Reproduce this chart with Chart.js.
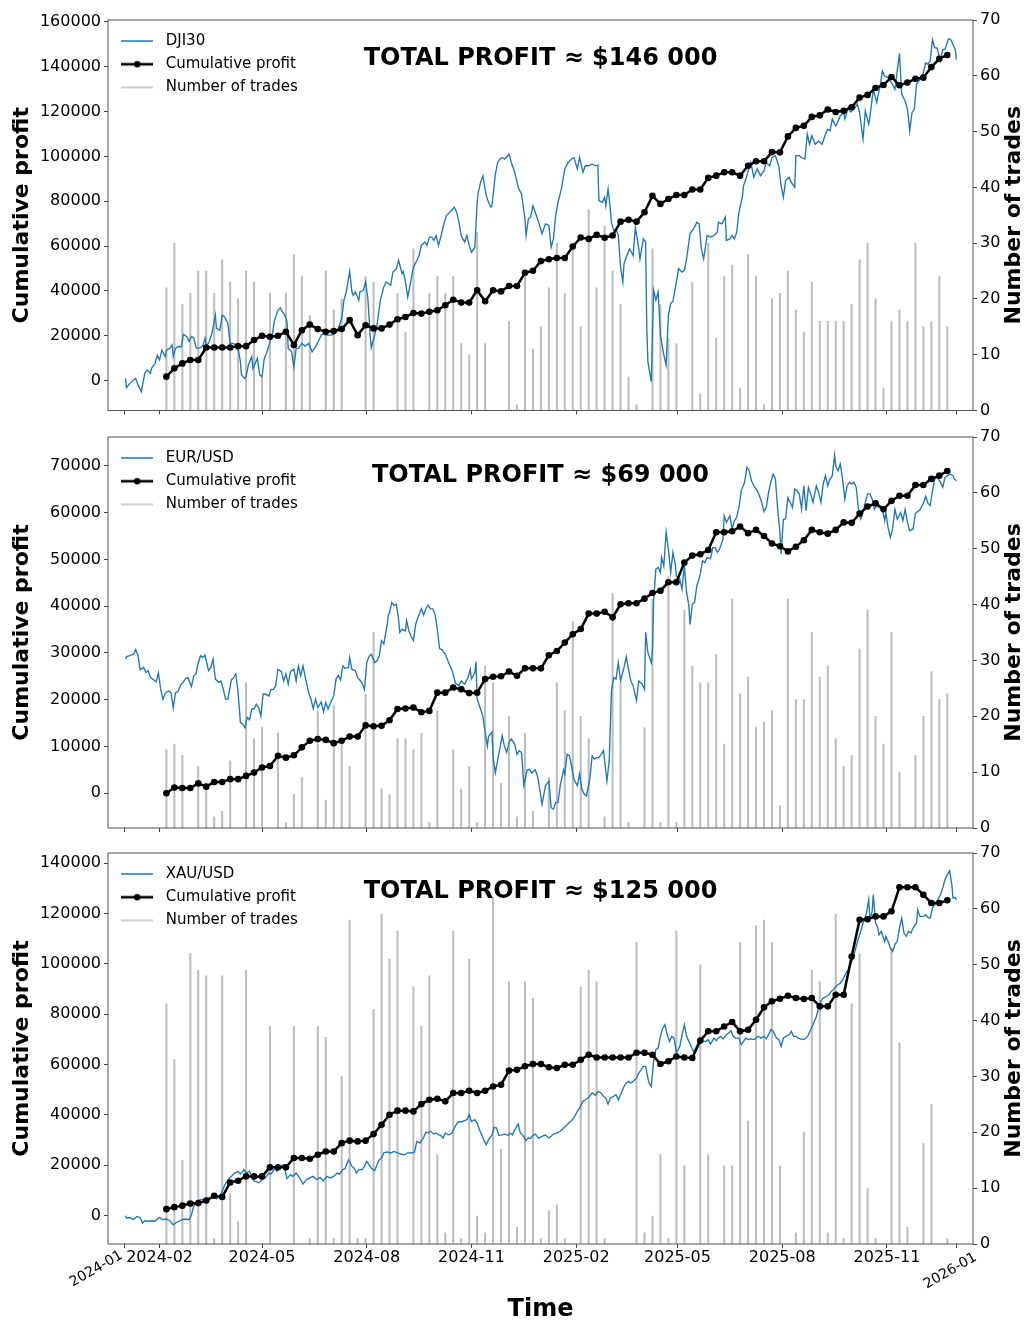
<!DOCTYPE html>
<html><head><meta charset="utf-8">
<script src="https://cdn.jsdelivr.net/npm/chart.js@4.4.1/dist/chart.umd.min.js"></script>
<style>
html,body{margin:0;padding:0;background:#fff;}
#wrap{position:relative;width:1028px;height:1324px;overflow:hidden;}
canvas{position:absolute;left:0;display:block;}
</style></head><body>
<div id="wrap">
<canvas id="c1" width="1028" height="426" style="top:0px"></canvas>
<canvas id="c2" width="1028" height="426" style="top:416.5px"></canvas>
<canvas id="c3" width="1028" height="491" style="top:833px"></canvas>
</div>
<script>
// ---------- data ----------
const tickLabels = ['2024-01','2024-02','2024-05','2024-08','2024-11','2025-02','2025-05','2025-08','2025-11','2026-01'];
const rotatedLabels = ['2024-01','2026-01'];
const weekStart = '2024-02-07';   // weekly points (cumulative profit / trades)
const weekCount = 99;

// price series: [day since 2024-01-01, value]
const djiPrice = [[1,1000],[2,-3100],[5,-1200],[8,300],[10,1000],[12,-1900],[15,-4900],[18,3300],[20,4700],[23,3300],[24,5500],[27,7700],[29,11400],[31,9200],[33,13600],[36,10700],[37,13600],[40,14400],[42,15900],[43,10700],[45,14400],[47,15100],[50,15100],[52,20600],[55,19600],[57,17600],[59,19600],[61,19100],[63,14800],[64,14400],[67,14700],[69,15600],[71,19100],[72,15900],[74,16600],[77,21000],[80,29200],[81,23300],[84,22500],[86,29200],[88,28500],[91,25500],[93,16600],[95,16600],[97,16300],[100,14400],[102,8500],[103,2500],[106,1000],[107,1800],[109,7000],[112,10700],[113,5500],[115,7700],[117,9900],[119,2500],[121,1800],[123,9900],[125,12200],[128,17300],[130,20300],[132,27000],[135,31400],[137,32500],[139,30700],[141,29200],[143,26200],[144,14400],[147,12900],[149,6200],[151,14400],[153,14400],[156,16600],[159,15400],[162,16600],[165,12900],[168,15100],[171,18100],[173,20300],[175,21000],[177,20300],[179,20300],[182,20300],[185,21000],[188,23300],[191,27700],[193,35900],[195,39600],[198,48700],[200,39600],[201,38100],[203,39600],[206,35900],[207,39600],[210,40300],[212,44000],[214,36600],[216,20300],[217,14700],[220,20300],[222,24700],[225,35900],[228,41800],[230,44000],[232,43300],[234,42500],[236,48400],[239,49900],[241,53600],[244,47700],[245,48700],[247,44000],[249,37300],[251,42500],[254,50600],[257,53600],[259,55800],[261,60300],[264,61800],[266,60300],[268,64000],[270,64000],[272,62500],[274,64700],[276,60300],[278,64000],[280,68400],[283,73600],[286,75100],[290,77300],[292,75100],[294,70600],[296,64700],[299,61800],[301,64700],[303,60300],[305,57300],[308,59500],[310,79500],[311,84000],[313,88400],[315,91400],[318,82500],[320,79500],[322,77300],[323,78000],[326,92100],[328,97300],[330,98800],[332,99500],[334,98800],[337,100300],[338,101000],[340,97300],[343,92900],[346,86200],[349,83200],[352,72100],[353,64700],[355,72100],[357,72900],[359,78000],[361,75100],[364,70600],[367,65500],[370,69900],[373,69200],[375,59500],[377,63200],[379,73600],[381,79500],[384,85500],[387,94400],[390,97300],[393,98800],[395,99500],[398,94400],[400,99500],[403,92900],[405,95800],[408,95800],[411,96600],[414,95800],[416,96100],[417,80300],[420,79500],[422,81800],[423,78000],[425,85500],[427,76600],[428,70600],[430,66900],[432,67700],[434,64700],[436,50600],[438,44000],[439,52100],[441,55100],[444,58800],[447,55800],[449,68400],[452,58800],[453,54300],[456,63200],[458,61800],[459,24000],[460,8500],[461,5500],[463,-400],[465,40300],[467,35900],[469,39600],[471,20300],[474,11400],[476,7000],[478,29200],[480,34400],[482,35400],[484,41000],[485,44000],[487,49900],[490,48400],[492,49200],[494,54300],[497,65500],[500,67700],[503,70600],[505,69900],[507,58800],[509,54300],[512,64700],[515,64000],[518,64700],[521,66200],[522,70600],[525,69900],[528,72900],[529,62500],[532,63200],[534,64700],[536,63200],[538,66200],[540,75100],[543,81800],[544,86900],[547,91400],[550,97300],[551,95800],[553,90700],[556,94400],[559,91400],[562,93600],[564,97300],[567,95800],[569,99500],[572,100300],[575,95800],[577,86900],[579,81800],[581,89200],[584,90700],[586,88400],[589,86200],[590,100300],[593,100300],[595,99500],[598,98800],[600,109900],[602,105400],[604,109200],[607,105400],[610,106900],[613,105400],[616,109900],[618,112100],[620,111400],[622,116600],[625,113600],[626,114400],[629,118000],[632,119500],[633,116600],[636,121700],[638,119800],[641,121000],[644,123200],[646,119500],[649,107700],[651,120300],[654,114400],[655,117300],[658,129900],[661,124000],[664,131400],[666,138000],[668,135800],[671,135100],[674,132800],[677,129900],[681,145900],[683,127700],[686,124700],[688,121000],[689,116600],[690,111400],[692,119500],[694,121000],[696,132100],[698,133600],[699,134300],[702,137300],[704,141700],[706,141000],[708,142500],[710,152100],[712,148400],[714,148400],[717,142500],[719,147700],[721,147700],[724,152400],[726,152100],[728,149900],[730,147700],[731,143200]];

const eurPrice = [[1,28700],[2,29200],[5,29400],[8,29700],[10,30700],[12,29500],[14,26400],[17,26900],[19,25800],[21,26200],[23,24700],[25,24400],[28,23800],[30,25700],[32,22200],[34,20100],[36,21400],[39,21900],[41,21500],[43,18300],[45,21500],[47,21700],[50,23300],[52,23800],[54,24500],[56,24700],[59,22800],[61,25100],[63,25500],[65,27900],[67,29400],[69,29000],[71,29500],[74,26200],[76,26900],[78,28700],[80,24400],[83,23700],[85,24000],[87,22200],[89,20100],[91,20100],[94,24200],[96,24700],[98,25500],[100,21500],[102,15100],[104,14800],[106,14000],[108,16200],[110,15700],[112,18000],[114,18000],[116,19000],[118,18300],[120,16500],[122,21200],[124,21200],[127,20800],[129,22200],[131,22200],[133,23000],[135,26500],[138,26000],[140,24000],[142,25500],[144,23300],[146,26000],[149,26500],[151,24000],[153,27200],[155,25100],[157,27200],[160,23700],[162,21500],[164,20100],[166,18100],[168,20100],[170,18300],[173,19500],[175,17400],[177,19400],[179,18000],[182,19800],[184,20800],[186,24400],[188,25200],[190,24200],[192,27200],[194,26700],[197,26900],[198,29000],[200,26400],[203,26200],[205,24700],[207,24200],[209,23500],[211,22200],[213,27900],[215,29200],[217,29700],[220,27900],[222,28300],[224,29400],[226,32600],[228,31900],[231,36100],[232,38100],[233,38600],[235,40800],[237,40100],[239,40400],[241,37200],[242,34400],[244,35100],[247,34700],[248,36900],[250,34700],[252,33500],[254,32600],[256,36100],[258,37600],[261,39400],[263,38100],[265,39500],[267,40200],[269,39400],[271,39400],[273,38300],[275,35100],[277,30900],[279,30700],[282,29700],[285,27900],[288,26200],[291,23500],[294,23000],[296,24000],[299,23300],[302,24700],[304,26500],[305,24400],[308,25800],[309,28100],[310,20100],[312,18700],[315,16500],[317,13000],[319,10100],[320,12100],[323,13100],[324,7600],[326,4400],[329,8300],[332,12300],[334,10000],[336,8700],[338,10800],[340,11600],[343,10500],[345,8300],[347,9100],[349,8700],[351,1700],[354,5000],[356,5100],[358,4300],[361,5000],[363,3700],[365,900],[367,-2400],[370,1600],[373,2600],[375,-3100],[377,-3400],[379,-2000],[381,-2000],[383,1600],[386,5000],[387,4100],[389,8300],[391,8000],[393,5800],[395,3000],[398,1600],[400,4100],[402,900],[404,-200],[406,-600],[409,3000],[411,8000],[413,7300],[415,7600],[417,7600],[419,8300],[421,9100],[424,2600],[426,6900],[428,21900],[430,24700],[432,24400],[434,27900],[436,24000],[439,26900],[441,29200],[443,26500],[445,24000],[447,23000],[450,19800],[452,24000],[455,23300],[457,22200],[458,34400],[460,30100],[463,27900],[464,30400],[465,41100],[467,47900],[469,48300],[471,47200],[472,50400],[474,48600],[476,55800],[478,52200],[480,47200],[482,51500],[484,49000],[485,46500],[488,45800],[490,43600],[492,48600],[494,42900],[496,40100],[497,36100],[499,40400],[501,40800],[503,44300],[506,46800],[508,49700],[510,49300],[512,50400],[515,50100],[517,52500],[519,52500],[521,51500],[523,52200],[526,54300],[527,59300],[529,57900],[532,59300],[534,56500],[536,58200],[538,59000],[540,61100],[542,64700],[545,66500],[547,69700],[549,69000],[551,66800],[553,65700],[556,64700],[558,63600],[560,62200],[562,60200],[564,61100],[566,64300],[568,66500],[570,68200],[572,67200],[574,60700],[576,55800],[577,51100],[579,58500],[581,58700],[583,63200],[585,62200],[587,61100],[589,65000],[591,64700],[593,64000],[595,60700],[597,65700],[599,60400],[601,65400],[603,64000],[605,62200],[608,65700],[610,64300],[612,62200],[614,66100],[616,67900],[618,65700],[620,67200],[622,67900],[624,72300],[625,70000],[627,68900],[629,70400],[631,67200],[633,62900],[635,65700],[637,66500],[639,66100],[641,66500],[643,65400],[645,60700],[647,58600],[649,60000],[651,62200],[653,64000],[655,64000],[657,62900],[659,60700],[661,61500],[663,61100],[666,60700],[668,58300],[669,60000],[671,56800],[673,54700],[675,56500],[677,60700],[679,58600],[682,60000],[684,58300],[686,60700],[688,57900],[690,56100],[693,56500],[695,59800],[697,60200],[699,60600],[702,62000],[704,63500],[706,62000],[708,61500],[710,64700],[712,67200],[714,67500],[717,66500],[719,65400],[721,67500],[723,67900],[726,68200],[728,67900],[729,67200],[731,66800]];

const xauPrice = [[1,0],[2,-900],[5,-700],[8,-1600],[11,-300],[14,-700],[16,-2900],[18,-2000],[21,-2200],[24,-2000],[27,-2200],[30,-900],[31,-700],[34,-1600],[37,-1300],[40,-2000],[43,-3600],[45,-2900],[48,-2200],[51,-1600],[54,-1300],[57,-1600],[59,400],[61,3700],[63,5000],[65,6000],[67,6400],[70,6400],[72,7000],[75,7000],[78,7300],[81,6700],[84,7700],[86,9700],[88,12000],[91,14300],[94,15600],[97,16900],[100,17600],[102,16500],[104,17600],[105,18300],[107,16900],[110,17600],[112,15600],[114,13600],[116,13600],[118,13000],[121,14300],[124,15000],[127,16900],[129,16500],[132,18700],[134,17600],[137,19600],[140,20200],[143,14700],[146,16300],[148,15600],[151,16900],[154,15000],[157,12600],[160,14300],[163,15000],[166,15600],[169,14300],[172,15200],[175,13900],[178,15600],[181,15000],[184,15600],[187,16900],[189,16500],[192,18300],[194,18700],[197,22200],[200,19600],[202,18900],[204,16900],[206,18300],[209,18300],[211,19600],[213,21600],[215,20200],[217,18900],[220,17900],[222,20200],[224,22200],[226,22900],[228,25000],[231,25300],[234,24900],[237,25500],[240,24900],[243,24500],[246,24200],[249,24900],[252,24900],[255,25300],[257,29500],[260,28800],[263,31100],[265,33200],[267,32800],[269,33500],[272,32400],[274,32800],[276,32100],[278,31900],[280,30800],[282,32800],[285,32100],[288,32800],[290,34800],[292,36400],[294,37400],[296,37200],[299,37700],[301,38100],[303,40100],[305,37400],[308,38100],[310,36800],[312,34100],[314,32100],[316,29800],[318,28200],[320,30200],[323,32100],[325,35100],[327,34800],[329,31900],[332,32100],[334,32400],[337,31900],[339,32800],[341,32100],[343,34100],[346,36400],[348,32800],[350,32100],[353,29800],[355,30800],[357,30600],[359,31900],[361,32400],[364,30800],[367,31500],[370,32100],[373,30800],[375,31500],[377,32400],[380,32800],[383,33500],[386,34800],[389,36100],[392,37400],[395,38800],[398,41400],[400,42700],[403,45400],[405,46000],[408,47000],[411,48700],[414,47800],[416,49300],[419,48700],[421,47400],[423,46700],[425,44300],[427,46700],[430,47400],[432,48000],[434,46000],[436,48000],[439,51300],[441,52700],[443,53300],[445,52700],[447,53300],[450,54600],[452,56600],[454,57900],[456,59300],[458,59300],[460,54600],[461,52700],[463,51300],[465,61300],[467,65900],[469,66500],[471,71200],[473,74500],[475,75800],[477,71800],[479,69200],[481,71200],[483,70500],[485,64600],[488,67200],[490,71800],[492,75800],[494,71200],[496,69200],[498,67200],[500,65200],[502,66500],[504,68500],[506,70500],[509,69200],[511,69200],[513,69900],[515,68100],[518,70500],[520,69500],[522,70500],[524,71200],[526,70200],[529,71800],[531,72500],[533,73400],[535,71200],[537,70500],[540,70500],[542,67900],[544,69200],[546,70500],[548,69900],[550,70200],[553,69900],[555,70500],[557,71200],[559,70500],[562,71200],[564,70200],[566,71800],[568,73800],[570,73200],[573,70500],[575,69900],[577,67200],[579,70500],[581,71200],[584,71800],[586,73200],[588,71200],[590,71200],[592,70500],[594,70200],[597,69900],[599,70500],[601,71800],[603,73800],[605,75800],[608,79100],[610,82400],[612,85100],[614,86400],[617,87100],[619,87700],[621,89000],[623,89700],[625,91000],[627,91700],[629,92300],[632,94300],[634,96300],[636,97600],[638,99600],[641,103600],[643,106900],[645,110200],[647,112900],[649,116200],[652,120100],[654,125400],[655,117500],[657,120800],[658,127400],[660,116200],[662,114200],[663,111500],[665,112900],[668,108900],[669,110900],[671,108900],[673,106200],[675,104900],[677,107600],[679,108900],[681,114200],[683,118100],[685,112200],[687,110900],[689,112900],[691,112200],[693,114200],[696,116200],[697,121400],[699,118800],[702,118800],[704,119500],[706,118400],[708,118100],[710,122100],[712,123400],[714,124800],[717,127400],[719,130100],[721,133400],[723,135300],[725,136900],[727,131400],[728,126100],[730,126400],[731,125400]];

const djiProfit = [1800,5500,7700,9200,9200,14800,14800,14800,14800,15400,15400,18100,20000,19600,20000,21800,15900,22500,25000,23000,21800,22100,23000,27000,20300,24700,23300,23300,25000,27400,28400,30200,29900,30700,31400,33600,36100,34800,34800,40300,35400,40300,39800,42200,42200,48100,49000,53300,54100,54700,54700,59800,63800,63200,65000,63700,64700,70900,71700,70900,75100,82400,78800,81000,82800,82800,85200,85200,90400,91400,92900,92900,91400,95800,97800,97800,101900,101800,108900,112700,113600,117600,118300,120900,119800,120300,121900,126200,127400,130500,131800,135400,131700,132900,134600,135100,139800,143500,145200];
const eurProfit = [0,1200,1100,1100,2100,1400,2400,2400,3000,3000,3700,4400,5500,5800,8000,7600,8100,9800,11200,11600,11400,10700,11200,12100,12100,14500,14300,14400,15600,18000,18100,18300,17300,17600,21500,21500,22600,22200,21400,21500,24400,24900,25000,26000,25100,26700,26700,26700,29500,30400,32200,34000,35100,38400,38400,38800,37600,40400,40600,40600,41600,42800,43300,45100,45100,49300,50800,51100,52000,55800,55800,56000,57000,55600,56300,55000,53400,52800,51700,52700,54100,56300,55800,55500,56300,57900,57800,59800,61300,62000,60700,62500,63600,63600,65900,65900,67200,67900,68900];
const xauProfit = [2600,3400,4000,4800,5000,6000,7900,7400,13200,13900,15600,15600,15600,19200,19200,19200,22900,22900,22600,24200,25500,25500,28800,29800,29500,29800,32400,36100,40100,41700,41700,41400,44300,46000,46400,45400,48700,48700,49600,48700,49600,51300,52000,57600,57900,59300,60200,60200,58900,58600,59900,59900,61900,63900,62800,62800,62800,62800,62800,64700,64700,63900,60200,61300,63200,62800,62600,69500,73200,73200,75100,76900,73200,73800,77800,82700,85100,86100,87300,86400,86000,86400,83100,83100,87700,87700,102900,117500,117700,118800,118800,120800,130400,130400,130400,127400,124100,124100,125200];

const djiTrades = [22,30,19,21,25,25,21,27,23,20,25,23,6,21,0,21,28,24,17,0,25,18,20,0,0,24,23,0,0,21,14,29,0,21,24,21,24,12,10,32,12,0,0,16,1,25,11,15,22,30,21,30,15,36,22,33,25,19,6,1,0,29,19,13,12,0,23,3,30,13,24,26,4,28,24,1,20,21,25,18,14,23,16,16,16,16,19,27,30,20,4,16,18,16,30,15,16,24,15];
const eurTrades = [14,15,13,0,11,8,2,3,12,0,26,16,18,0,17,1,6,9,0,21,5,22,16,11,0,24,35,7,6,16,16,14,17,1,21,0,14,7,11,1,29,26,8,20,2,17,3,0,9,26,21,37,20,16,0,2,42,26,1,0,18,41,1,45,1,39,29,26,26,31,15,41,24,27,18,19,21,4,41,23,23,35,27,29,16,11,13,32,39,20,15,35,10,0,13,20,28,23,24];
const xauTrades = [43,33,15,52,49,48,1,48,9,4,49,0,0,39,0,0,39,0,1,39,37,1,30,58,1,1,42,59,51,56,0,46,39,48,16,2,56,1,51,5,2,62,17,47,3,47,44,1,6,7,1,0,46,49,47,1,0,0,0,54,2,5,16,1,56,14,0,50,16,0,14,14,54,22,57,58,54,14,0,2,20,49,47,2,59,1,43,52,10,1,0,53,36,3,0,18,25,0,1];

const profitLabels = ['TOTAL PROFIT ≈ $146 000','TOTAL PROFIT ≈ $69 000','TOTAL PROFIT ≈ $125 000'];

// ---------- helpers ----------
const FONT = "'DejaVu Sans', sans-serif";
Chart.defaults.font.family = FONT;
Chart.defaults.font.size = 16;
Chart.defaults.color = '#000';
const MS_DAY = 86400000;
const ORIGIN = Date.UTC(2024, 0, 1);
function dayOf(s){ const p = s.split('-').map(Number); return (Date.UTC(p[0], p[1]-1, p[2]||1) - ORIGIN) / MS_DAY; }
const weekDays = [];
for (let i = 0; i < weekCount; i++) weekDays.push(dayOf(weekStart) + 7*i);

function makeHandle(color, lw, dot){
  const c = document.createElement('canvas'); c.width = 32; c.height = 10;
  const g = c.getContext('2d');
  g.strokeStyle = color; g.lineWidth = lw;
  g.beginPath(); g.moveTo(0,5); g.lineTo(32,5); g.stroke();
  if (dot){ g.fillStyle = color; g.beginPath(); g.arc(16,5,3.2,0,Math.PI*2); g.fill(); }
  return c;
}
const handles = [makeHandle('#1f77b4',1.5,false), makeHandle('#000',2.6,true), makeHandle('#bdbdbd',1.5,false)];

const overlay = {
  id: 'overlay',
  afterDraw(chart, args, o){
    const {ctx, chartArea:a} = chart;
    ctx.save();
    ctx.strokeStyle = '#555'; ctx.lineWidth = 1;
    ctx.strokeRect(a.left, a.top, a.right - a.left, a.bottom - a.top);
    ctx.fillStyle = '#000'; ctx.textAlign = 'center'; ctx.textBaseline = 'middle';
    ctx.font = 'bold 24px ' + FONT;
    ctx.fillText(o.text, (a.left + a.right)/2, a.top + 38.5);
    ctx.save();
    ctx.translate(1014.5, (a.top + a.bottom)/2); ctx.rotate(-Math.PI/2);
    ctx.font = 'bold 22px ' + FONT;
    ctx.fillText('Number of trades', 0, 0);
    ctx.restore();
    if (o.rotated){
      const xs = chart.scales.x;
      const offs = [[-28,25],[-6,27]];
      ctx.font = '14px ' + FONT;
      rotatedLabels.forEach((lbl, i) => {
        const px = xs.getPixelForValue(dayOf(lbl));
        ctx.save();
        ctx.translate(px + offs[i][0], a.bottom + offs[i][1]);
        ctx.rotate(-Math.PI/6);
        ctx.fillText(lbl, 0, 0);
        ctx.restore();
      });
    }
    ctx.restore();
  }
};

const panels = [
  {id:'c1', name:'DJI30', price:djiPrice, profit:djiProfit, trades:djiTrades, yMin:-13300, yMax:160800, yTicks:[0,20000,40000,60000,80000,100000,120000,140000,160000], xh:15.5, bottom:false, text:profitLabels[0]},
  {id:'c2', name:'EUR/USD', price:eurPrice, profit:eurProfit, trades:eurTrades, yMin:-7440, yMax:76160, yTicks:[0,10000,20000,30000,40000,50000,60000,70000], xh:15, bottom:false, text:profitLabels[1]},
  {id:'c3', name:'XAU/USD', price:xauPrice, profit:xauProfit, trades:xauTrades, yMin:-11230, yMax:143970, yTicks:[0,20000,40000,60000,80000,100000,120000,140000], xh:80, bottom:true, text:profitLabels[2]}
];

const tickGrid = {display:true, drawOnChartArea:false, drawTicks:true, tickLength:4, tickColor:'#444', tickWidth:1, offset:false};

panels.forEach(p => {
  new Chart(document.getElementById(p.id), {
    type: 'line',
    data: { datasets: [
      {label:p.name, data:p.price.map(d => ({x:d[0], y:d[1]})), borderColor:'#1f77b4', backgroundColor:'#1f77b4', borderWidth:1.35, pointRadius:0, tension:0, yAxisID:'y', order:2},
      {label:'Cumulative profit', data:weekDays.map((d,i) => ({x:d, y:p.profit[i]})), borderColor:'#000', backgroundColor:'#000', borderWidth:2.5, pointRadius:3.3, pointBackgroundColor:'#000', pointBorderWidth:0, tension:0, yAxisID:'y', order:1},
      {type:'bar', label:'Number of trades', data:weekDays.map((d,i) => ({x:d, y:p.trades[i]})), backgroundColor:'#bdbdbd', borderWidth:0, barThickness:1.4, grouped:false, yAxisID:'y1', order:3}
    ]},
    options: {
      responsive:false, animation:false, events:[],
      layout:{padding:{top:20, left:0, right:0, bottom:0}},
      scales: {
        x: {
          type:'linear', min:-14.3, max:745.6, offset:false,
          afterBuildTicks: s => { s.ticks = tickLabels.map(l => ({value: dayOf(l)})); },
          ticks:{autoSkip:false, maxRotation:0, minRotation:0, padding:0,
            callback:(v,i) => (p.bottom && !rotatedLabels.includes(tickLabels[i])) ? tickLabels[i] : ''},
          grid:tickGrid, border:{display:false},
          afterFit: s => { s.height = p.xh; },
          title: p.bottom ? {display:true, text:'Time', font:{size:24, weight:'bold'}, padding:{top:0, bottom:0}} : {display:false}
        },
        y: {
          position:'left', min:p.yMin, max:p.yMax,
          afterBuildTicks: s => { s.ticks = p.yTicks.map(v => ({value:v})); },
          ticks:{padding:3, callback: v => String(v)},
          grid:tickGrid, border:{display:false},
          afterFit: s => { s.width = 108; },
          title:{display:true, text:'Cumulative profit', font:{size:22, weight:'bold'}, padding:{top:9.3, bottom:0}}
        },
        y1: {
          position:'right', min:0, max:70,
          ticks:{stepSize:10, padding:3},
          grid:tickGrid, border:{display:false},
          afterFit: s => { s.width = 55; }
        }
      },
      plugins: {
        tooltip:{enabled:false},
        legend:{
          position:'chartArea', align:'start',
          title:{display:true, text:'', padding:{top:24.3, bottom:0}, font:{size:1, lineHeight:1}},
          labels:{
            usePointStyle:true, pointStyleWidth:42, padding:8.2, color:'#000',
            font:{size:15, family:FONT},
            sort:(a,b) => a.datasetIndex - b.datasetIndex,
            generateLabels: chart => {
              const items = Chart.defaults.plugins.legend.labels.generateLabels(chart);
              items.forEach(it => { it.pointStyle = handles[it.datasetIndex]; it.fontColor = '#000'; });
              return items;
            }
          }
        },
        overlay:{text:p.text, rotated:p.bottom}
      }
    },
    plugins:[overlay]
  });
});
</script>
</body></html>
